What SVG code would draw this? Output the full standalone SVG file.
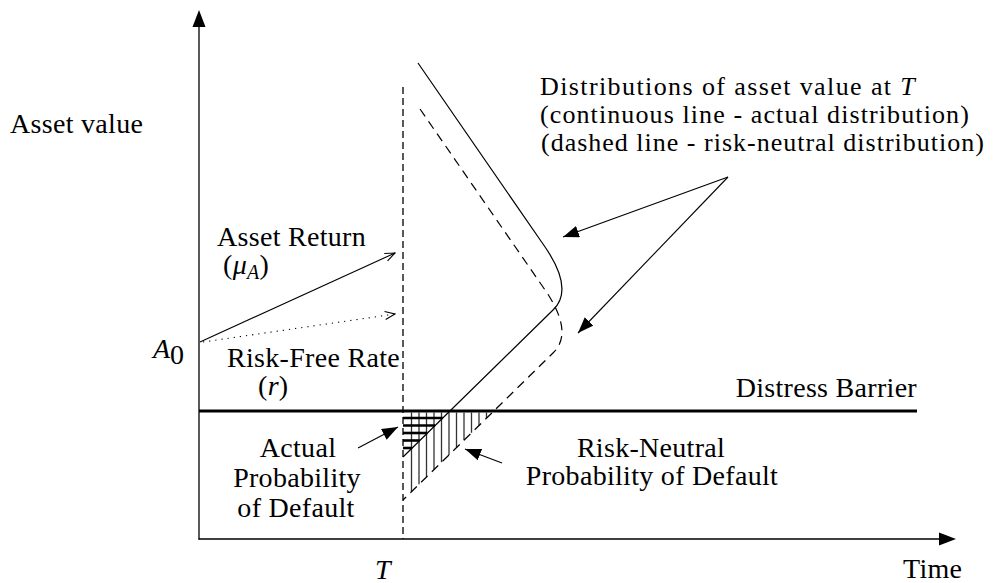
<svg xmlns="http://www.w3.org/2000/svg" width="1000" height="583" viewBox="0 0 1000 583">
<style>
.lbl text{font-family:'Liberation Serif','Times New Roman',serif;font-size:28px;letter-spacing:0.3px;fill:#000}
.lbl text.dist{font-size:26px}
.it{font-style:italic}
.ax{stroke:#000;stroke-width:1.3;fill:none}
.curve{stroke:#000;stroke-width:1.2;fill:none}
.dash{stroke-dasharray:9 6}
.vh{stroke:#333;stroke-width:1.3}
.hh{stroke:#000;stroke-width:2.6}
.conn{stroke:#000;stroke-width:1.1;fill:none}
</style>
<defs>
<marker id="fill" markerUnits="userSpaceOnUse" markerWidth="17" markerHeight="13" refX="16" refY="6" orient="auto">
<path d="M0,0 L16,6 L0,12 z" fill="#000"/>
</marker>
<marker id="open" markerUnits="userSpaceOnUse" markerWidth="12" markerHeight="10" refX="10.5" refY="4.5" orient="auto">
<path d="M0.5,0.5 L10.5,4.5 L0.5,8.5" fill="none" stroke="#000" stroke-width="1.1"/>
</marker>
</defs>

<g id="axes">
<line class="ax" x1="199" y1="539.5" x2="199" y2="26"/>
<polygon points="199,10 192.5,27 205.5,27" fill="#000"/>
<line class="ax" x1="198.5" y1="539" x2="940" y2="539"/>
<polygon points="956,539 939,532.5 939,545.5" fill="#000"/>
<line class="ax" x1="403" y1="87" x2="403" y2="539" stroke-dasharray="7 4"/>
</g>

<g id="hatching">
<line class="vh" x1="411.5" y1="412.5" x2="411.5" y2="491.6"/>
<line class="vh" x1="419" y1="412.5" x2="419" y2="484.3"/>
<line class="vh" x1="426.5" y1="412.5" x2="426.5" y2="476.9"/>
<line class="vh" x1="434" y1="412.5" x2="434" y2="469.6"/>
<line class="vh" x1="441.5" y1="412.5" x2="441.5" y2="462.2"/>
<line class="vh" x1="449" y1="412.5" x2="449" y2="454.9"/>
<line class="vh" x1="456.5" y1="412.5" x2="456.5" y2="447.5"/>
<line class="vh" x1="464" y1="412.5" x2="464" y2="440.2"/>
<line class="vh" x1="471.5" y1="412.5" x2="471.5" y2="432.8"/>
<line class="vh" x1="479" y1="412.5" x2="479" y2="425.5"/>
<line class="vh" x1="486.5" y1="412.5" x2="486.5" y2="418.1"/>
<line class="hh" x1="403" y1="418" x2="442.7" y2="418"/>
<line class="hh" x1="403" y1="425.5" x2="435.1" y2="425.5"/>
<line class="hh" x1="403" y1="433" x2="427.4" y2="433"/>
<line class="hh" x1="403" y1="440.5" x2="419.8" y2="440.5"/>
<line class="hh" x1="403" y1="448" x2="412.1" y2="448"/>
</g>

<g id="barrier">
<line x1="199" y1="411" x2="917" y2="411" stroke="#000" stroke-width="3"/>
</g>

<g id="actual-distribution">
<path class="curve" d="M418,63 L543,244 Q575,289 553,310 L403,457"/>
</g>
<g id="risk-neutral-distribution">
<path class="curve dash" d="M420,109 L543,287 Q575,332 553,353 L403,500"/>
</g>

<g id="connectors">
<line class="conn" x1="200" y1="342" x2="395" y2="253" marker-end="url(#open)"/>
<line class="conn" x1="203" y1="342" x2="395" y2="314" stroke-dasharray="1.2 5" marker-end="url(#open)"/>
<line class="conn" x1="728" y1="177" x2="563" y2="237" marker-end="url(#fill)"/>
<line class="conn" x1="728" y1="177" x2="578" y2="333" marker-end="url(#fill)"/>
<line class="conn" x1="358" y1="448" x2="398" y2="427" marker-end="url(#fill)"/>
<line class="conn" x1="502" y1="463" x2="465" y2="449" marker-end="url(#fill)"/>
</g>

<g id="labels" class="lbl">
<text x="10" y="133">Asset value</text>
<text class="dist" x="540" y="95" style="letter-spacing:1.4px">Distributions of asset value at <tspan class="it">T</tspan></text>
<text class="dist" x="540" y="123" style="letter-spacing:1.1px">(continuous line - actual distribution)</text>
<text class="dist" x="541" y="151" style="letter-spacing:1.0px">(dashed line - risk-neutral distribution)</text>
<text x="217" y="246">Asset Return</text>
<text x="223" y="274">(<tspan class="it">μ</tspan><tspan class="it" font-size="20" dy="5">A</tspan><tspan dy="-5">)</tspan></text>
<text x="153" y="358" class="it" font-size="30">A</text>
<text x="170" y="364" font-size="21">0</text>
<text x="227" y="367">Risk-Free Rate</text>
<text x="258" y="395">(<tspan class="it">r</tspan>)</text>
<text x="917" y="397" text-anchor="end" font-size="26">Distress Barrier</text>
<text x="298" y="457" text-anchor="middle">Actual</text>
<text x="297" y="487" text-anchor="middle">Probability</text>
<text x="296" y="517" text-anchor="middle">of Default</text>
<text x="651" y="457" text-anchor="middle">Risk-Neutral</text>
<text x="652" y="485" text-anchor="middle">Probability of Default</text>
<text x="375" y="579" class="it" font-size="32">T</text>
<text x="903" y="578">Time</text>
</g>
</svg>
